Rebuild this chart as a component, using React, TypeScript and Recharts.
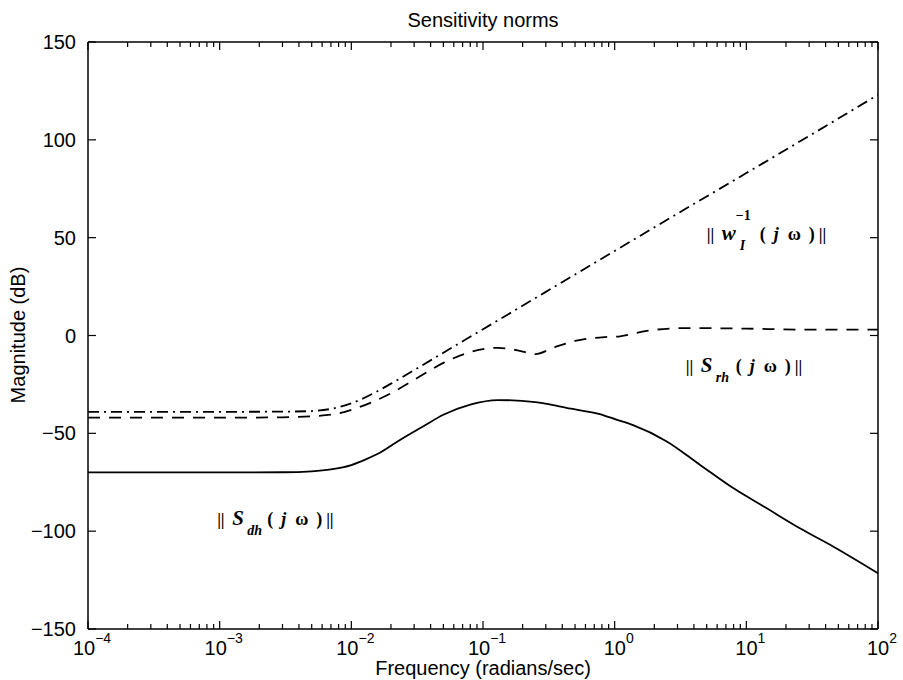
import React from 'react'
import { LineChart, Line, XAxis, YAxis, ReferenceDot } from 'recharts'

// ||S_dh(jw)|| (solid)
const sdhFreq = [1e-4, 1e-3, 3e-3, 5e-3, 7e-3, 1e-2, 1.3e-2, 1.66e-2, 2.34e-2, 3.5e-2, 5e-2, 8e-2, 0.13, 0.25, 0.43, 0.77, 1.03, 1.38, 2.47, 4.43, 7.95, 14.2, 25.5, 45.6, 100]
const sdhMag = [-70, -70, -69.9, -69.4, -68.4, -66.2, -63.2, -59.8, -53.4, -46.5, -40.5, -35.3, -33, -34, -37, -40.2, -43, -45.8, -54, -66, -78, -88.2, -98.5, -107.8, -121.5]

// ||S_rh(jw)|| (dashed)
const srhFreq = [1e-4, 1e-3, 3e-3, 5e-3, 8e-3, 1e-2, 1.5e-2, 2e-2, 3.3e-2, 5e-2, 8e-2, 0.13, 0.18, 0.25, 0.35, 0.5, 0.85, 1.1, 1.75, 3.5, 10, 30, 100]
const srhMag = [-42, -42, -41.8, -41.3, -39.8, -38, -33.5, -29.5, -21, -14, -8.5, -6.3, -7.5, -9.5, -6, -2.8, -0.8, -0.4, 2.4, 3.8, 3.5, 3, 3]

// ||w_I^-1(jw)|| (dash-dot)
const wiFreq = [1e-4, 1e-3, 3e-3, 5e-3, 7e-3, 1e-2, 1.5e-2, 2e-2, 3e-2, 5e-2, 0.1, 0.3, 1, 3, 10, 30, 100]
const wiMag = [-39, -39, -38.9, -38.6, -37.5, -34.7, -29.3, -24.6, -17.7, -8.8, 3.2, 22.3, 43.2, 62.3, 83, 102, 123]

const decades = [-4, -3, -2, -1, 0, 1, 2]
const minorSteps = [2, 3, 4, 5, 6, 7, 8, 9]
const magTicks = [-150, -100, -50, 0, 50, 100, 150]

const freqTicks = decades.flatMap(d =>
  d === 2 ? [Math.pow(10, d)] : [Math.pow(10, d), ...minorSteps.map(m => m * Math.pow(10, d))]
)

const toPoints = (freq: number[], mag: number[]) => freq.map((f, i) => ({ f, mag: mag[i] }))
const sdhData = toPoints(sdhFreq, sdhMag)
const srhData = toPoints(srhFreq, srhMag)
const wiData = toPoints(wiFreq, wiMag)

const sans = '"Liberation Sans", Arial, sans-serif'
const serif = '"Liberation Serif", "Times New Roman", serif'
const fmtNum = (v: number) => (v < 0 ? '\u2212' + Math.abs(v) : String(v))
const isDecade = (v: number) => Math.abs(Math.log10(v) - Math.round(Math.log10(v))) < 1e-6

const BottomTick = (props: any) => {
  const { x, y, payload } = props
  const major = isDecade(payload.value)
  const exp = Math.round(Math.log10(payload.value))
  return (
    <g>
      <line x1={x} x2={x} y1={y} y2={y - (major ? 8 : 5)} stroke="#000" strokeWidth={1.2} />
      {major && (
        <text x={x + 4} y={y + 26} textAnchor="middle" fontFamily={sans} fontSize={20} fill="#000">
          <tspan>10</tspan>
          <tspan dy={-12} fontSize={14}>{fmtNum(exp)}</tspan>
        </text>
      )}
    </g>
  )
}

const TopTick = (props: any) => {
  const { x, y, payload } = props
  const major = isDecade(payload.value)
  return <line x1={x} x2={x} y1={y} y2={y + (major ? 8 : 5)} stroke="#000" strokeWidth={1.2} />
}

const LeftTick = (props: any) => {
  const { x, y, payload } = props
  return (
    <g>
      <line x1={x} x2={x + 8} y1={y} y2={y} stroke="#000" strokeWidth={1.2} />
      <text x={x - 12} y={y + 7} textAnchor="end" fontFamily={sans} fontSize={20} fill="#000">
        {fmtNum(payload.value)}
      </text>
    </g>
  )
}

const RightTick = (props: any) => {
  const { x, y } = props
  return <line x1={x} x2={x - 8} y1={y} y2={y} stroke="#000" strokeWidth={1.2} />
}

interface NormLabelProps {
  viewBox?: { x: number; y: number }
  sym: string
  sub: string
  sup?: string
}

// ||X_sub(j w)|| drawn from its left edge
const NormLabel = ({ viewBox, sym, sub, sup }: NormLabelProps) => {
  if (!viewBox) return null
  const { x, y } = viewBox
  const b = y + 6
  const shift = sup ? 3 : 0
  return (
    <g fontFamily={serif} fontWeight="bold" fill="#000">
      <text x={x + 1} y={b} fontSize={17}>||</text>
      <text x={x + 16} y={b} fontSize={21} fontStyle="italic">{sym}</text>
      {sup && <text x={x + 30} y={b - 20} fontSize={14}>{sup}</text>}
      <text x={x + 31 + shift} y={b + 10} fontSize={14} fontStyle="italic">{sub}</text>
      <text x={x + 51 + shift} y={b} fontSize={18}>(</text>
      <text x={x + 65 + shift} y={b} fontSize={18} fontStyle="italic">j</text>
      <text x={x + 79 + shift} y={b} fontSize={18}>ω</text>
      <text x={x + 100 + shift} y={b} fontSize={18}>)</text>
      <text x={x + 110 + shift} y={b} fontSize={17}>||</text>
    </g>
  )
}

const App: React.FC = () => {
  return (
    <div style={{ position: 'absolute', left: 0, top: 0, width: 903, height: 680, background: '#fff' }}>
      <LineChart width={903} height={680} margin={{ top: 40, right: 23, bottom: 11, left: 28 }}>
        <XAxis
          dataKey="f"
          type="number"
          scale="log"
          domain={[1e-4, 100]}
          allowDataOverflow
          ticks={freqTicks}
          interval={0}
          tick={BottomTick}
          tickLine={false}
          tickSize={0}
          tickMargin={0}
          height={40}
          axisLine={{ stroke: '#000', strokeWidth: 1.5 }}
        />
        <XAxis
          xAxisId="top"
          orientation="top"
          dataKey="f"
          type="number"
          scale="log"
          domain={[1e-4, 100]}
          allowDataOverflow
          ticks={freqTicks}
          interval={0}
          tick={TopTick}
          tickLine={false}
          tickSize={0}
          tickMargin={0}
          height={2}
          axisLine={{ stroke: '#000', strokeWidth: 1.5 }}
        />
        <YAxis
          type="number"
          domain={[-150, 150]}
          allowDataOverflow
          ticks={magTicks}
          interval={0}
          tick={LeftTick}
          tickLine={false}
          tickSize={0}
          tickMargin={0}
          width={60}
          axisLine={{ stroke: '#000', strokeWidth: 1.5 }}
        />
        <YAxis
          yAxisId="right"
          orientation="right"
          type="number"
          domain={[-150, 150]}
          allowDataOverflow
          ticks={magTicks}
          interval={0}
          tick={RightTick}
          tickLine={false}
          tickSize={0}
          tickMargin={0}
          width={2}
          axisLine={{ stroke: '#000', strokeWidth: 1.5 }}
        />
        <Line data={wiData} dataKey="mag" type="monotone" stroke="#000" strokeWidth={1.8}
          strokeDasharray="11 5 2 5" dot={false} isAnimationActive={false} />
        <Line data={srhData} dataKey="mag" type="monotone" stroke="#000" strokeWidth={1.8}
          strokeDasharray="12 9" dot={false} isAnimationActive={false} />
        <Line data={sdhData} dataKey="mag" type="monotone" stroke="#000" strokeWidth={1.8}
          dot={false} isAnimationActive={false} />
        <ReferenceDot x={4.92} y={52} r={0} fill="none" stroke="none"
          label={<NormLabel sym="w" sub="I" sup={'\u22121'} />} />
        <ReferenceDot x={3.41} y={-15.8} r={0} fill="none" stroke="none"
          label={<NormLabel sym="S" sub="rh" />} />
        <ReferenceDot x={9.4e-4} y={-94} r={0} fill="none" stroke="none"
          label={<NormLabel sym="S" sub="dh" />} />
      </LineChart>
      <svg width={903} height={680} style={{ position: 'absolute', left: 0, top: 0, pointerEvents: 'none' }}>
        <text x={483} y={27} textAnchor="middle" fontFamily={sans} fontSize={20} fill="#000">
          Sensitivity norms
        </text>
        <text x={483} y={675} textAnchor="middle" fontFamily={sans} fontSize={20} fill="#000">
          Frequency (radians/sec)
        </text>
        <text transform="translate(25,335) rotate(-90)" textAnchor="middle" fontFamily={sans} fontSize={20} fill="#000">
          Magnitude (dB)
        </text>
      </svg>
    </div>
  )
}

export default App
